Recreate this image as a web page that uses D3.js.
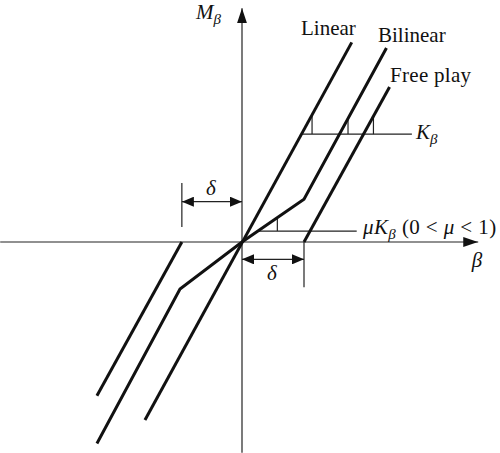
<!DOCTYPE html>
<html><head><meta charset="utf-8">
<script src="https://cdn.jsdelivr.net/npm/d3@7"></script>
<style>
html,body{margin:0;padding:0;background:#fff;}
svg{display:block;font-family:"Liberation Serif","DejaVu Serif",serif;}
</style></head>
<body>
<svg id="c" width="500" height="453"></svg>
<script>
// ---- data (in units of delta) ----
const seriesNames = ["Linear", "Bilinear", "Free play"];
const linearPts = [[-1.565, -2.87], [1.77, 3.22]];
const bilinearPts = [[-2.34, -3.25], [-1.0, -0.76], [0, 0], [1.0, 0.69], [2.33, 3.13]];
const freePlayLower = [[-2.34, -2.48], [-0.97, 0]];
const freePlayUpper = [[1.0, 0], [2.38, 2.50]];
const kLineY = 1.74, kLineX = [0.955, 2.74];
const kTickX = [1.13, 1.71, 2.12], kTickTop = [2.06, 1.99, 2.03];
const muLineY = 0.177, muLineX = [0.26, 1.85];
const muTickX = [0.57], muTickTop = [0.37];
const deltaUpper = {y: 0.65, x0: -0.97, x1: 0, tickTop: 0.95, tickBot: 0.24};
const deltaLower = {y: -0.28, x0: 0, x1: 1.0, tickTop: 0, tickBot: -0.73};
const xAxisRange = [-3.9, 3.81], yAxisRange = [-3.40, 3.77];

const svg = d3.select("#c");
const ox = 242, oy = 242, u = 62;
const x = d3.scaleLinear().domain([0, 1]).range([ox, ox + u]);
const y = d3.scaleLinear().domain([0, 1]).range([oy, oy - u]);
const line = d3.line().x(d => x(d[0])).y(d => y(d[1]));

const defs = svg.append("defs");
function marker(id, w, h) {
  defs.append("marker").attr("id", id).attr("viewBox", `0 0 ${w} ${h}`)
    .attr("refX", w).attr("refY", h / 2).attr("markerWidth", w).attr("markerHeight", h)
    .attr("markerUnits", "userSpaceOnUse").attr("orient", "auto-start-reverse")
    .append("path").attr("d", `M0,0L${w},${h/2}L0,${h}Z`).attr("fill", "#111");
}
marker("ax", 15, 10);
marker("dl", 12, 10);

const thin = 1.2;
// axes
svg.append("line").attr("x1", x(xAxisRange[0])).attr("x2", x(xAxisRange[1]))
  .attr("y1", y(0)).attr("y2", y(0)).attr("stroke", "#222").attr("stroke-width", thin)
  .attr("marker-end", "url(#ax)");
svg.append("line").attr("x1", x(0)).attr("x2", x(0))
  .attr("y1", y(yAxisRange[0])).attr("y2", y(yAxisRange[1])).attr("stroke", "#222").attr("stroke-width", thin)
  .attr("marker-end", "url(#ax)");

// reference lines
function seg(x1, y1, x2, y2) {
  svg.append("line").attr("x1", x(x1)).attr("y1", y(y1)).attr("x2", x(x2)).attr("y2", y(y2))
    .attr("stroke", "#222").attr("stroke-width", thin);
}
seg(kLineX[0], kLineY, kLineX[1], kLineY);
kTickX.forEach((t, i) => seg(t, kLineY, t, kTickTop[i]));
seg(muLineX[0], muLineY, muLineX[1], muLineY);
muTickX.forEach((t, i) => seg(t, muLineY, t, muTickTop[i]));

// delta dimension marks
[deltaUpper, deltaLower].forEach(d => {
  const tx = d === deltaUpper ? d.x0 : d.x1;
  seg(tx, d.tickTop, tx, d.tickBot);
  svg.append("line").attr("x1", x(d.x0)).attr("x2", x(d.x1)).attr("y1", y(d.y)).attr("y2", y(d.y))
    .attr("stroke", "#222").attr("stroke-width", thin)
    .attr("marker-start", "url(#dl)").attr("marker-end", "url(#dl)");
});

// curves
[linearPts, bilinearPts, freePlayLower, freePlayUpper].forEach(p => {
  svg.append("path").attr("d", line(p)).attr("fill", "none").attr("stroke", "#111")
    .attr("stroke-width", 3).attr("stroke-linejoin", "miter");
});

// text
const fs = 21;
function label(px, py, parts, anchor, size, ls) {
  const t = svg.append("text").attr("x", px).attr("y", py).attr("font-size", size || fs)
    .attr("fill", "#111").attr("text-anchor", anchor || "start");
  if (ls) t.attr("letter-spacing", ls);
  parts.forEach(p => {
    const ts = t.append("tspan").text(p.t);
    if (p.i) ts.attr("font-style", "italic");
    if (p.sub) ts.attr("font-size", 15).attr("dy", 5);
    if (p.up) ts.attr("dy", -5);
  });
  return t;
}
label(301, 35, [{t: seriesNames[0]}]);
label(378, 42, [{t: seriesNames[1]}]);
label(390, 82, [{t: seriesNames[2]}], "start", 21, 0.3);
label(196, 19, [{t: "M", i: 1}, {t: "β", i: 1, sub: 1}]);
label(416, 139, [{t: "K", i: 1}, {t: "β", i: 1, sub: 1}]);
label(363, 234, [{t: "μK", i: 1}, {t: "β", i: 1, sub: 1}, {t: " (0 < ", up: 1}, {t: "μ", i: 1}, {t: " < 1)"}], "start", 21, 0.4);
label(477, 267, [{t: "β", i: 1}], "middle");
label(211, 195, [{t: "δ", i: 1}], "middle");
label(272, 280, [{t: "δ", i: 1}], "middle");
</script>
</body></html>
